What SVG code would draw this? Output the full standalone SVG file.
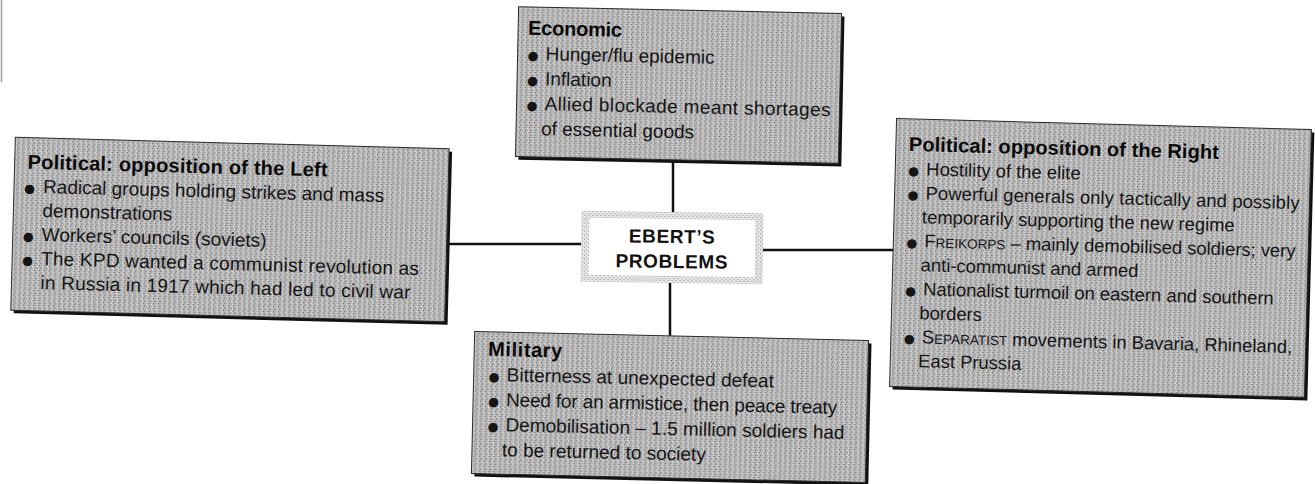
<svg xmlns="http://www.w3.org/2000/svg" width="1315" height="484" viewBox="0 0 1315 484">
<defs>
<pattern id="stip" width="5" height="5" patternUnits="userSpaceOnUse">
<rect width="5" height="5" fill="#b5b5b5"/>
<rect x="0" y="0" width="1" height="1" fill="#6a6a6a"/>
<rect x="3" y="1" width="1" height="1" fill="#f2f2f2"/>
<rect x="1" y="3" width="1" height="1" fill="#7c7c7c"/>
<rect x="4" y="4" width="1" height="1" fill="#e6e6e6"/>
<rect x="2" y="2" width="1" height="1" fill="#909090"/>
<rect x="4" y="2" width="1" height="1" fill="#d8d8d8"/>
</pattern>
<pattern id="stipL" width="4" height="4" patternUnits="userSpaceOnUse">
<rect width="4" height="4" fill="#e2e2e2"/>
<rect x="0" y="0" width="1" height="1" fill="#8a8a8a"/>
<rect x="2" y="2" width="1" height="1" fill="#a0a0a0"/>
<rect x="3" y="1" width="1" height="1" fill="#ffffff"/>
</pattern>
</defs>
<style>
.box{fill:url(#stip);stroke:#2a2a2a;stroke-width:1}
.sh{fill:#111}
.t{font-family:"Liberation Sans",Arial,sans-serif;font-size:19px;fill:#151515}
.r{font-size:18.4px}
.h{font-family:"Liberation Sans",Arial,sans-serif;font-size:20px;font-weight:bold;fill:#0a0a0a}
.b{font-family:"DejaVu Sans",sans-serif;font-size:12.5px}
.sc{font-size:13.5px}
.ct{font-family:"Liberation Sans",Arial,sans-serif;font-size:19px;font-weight:bold;fill:#111;text-anchor:middle;letter-spacing:0.6px}
.c{stroke:#111;stroke-width:2.5;fill:none}
</style>
<line x1="1.5" y1="0" x2="1.5" y2="82" stroke="#9a9a9a" stroke-width="1.5"/>
<g id="connectors">
<line class="c" x1="673" y1="160" x2="673" y2="213"/>
<line class="c" x1="449" y1="244" x2="584" y2="244"/>
<line class="c" x1="762" y1="250" x2="895" y2="250"/>
<line class="c" x1="670" y1="283" x2="670" y2="338"/>
</g>
<g id="economic" transform="rotate(1.2 678 85)">
<rect class="sh" x="520" y="13" width="323" height="150"/>
<rect class="box" x="517" y="10" width="323" height="150"/>
<text class="h" x="527" y="38" textLength="94">Economic</text>
<text class="t" y="63"><tspan class="b" x="527">●</tspan><tspan x="545">Hunger/flu epidemic</tspan></text>
<text class="t" y="88"><tspan class="b" x="527">●</tspan><tspan x="545">Inflation</tspan></text>
<text class="t" y="113"><tspan class="b" x="527">●</tspan><tspan x="545" textLength="286">Allied blockade meant shortages</tspan></text>
<text class="t" x="542" y="138">of essential goods</text>
</g>
<g id="left" transform="rotate(1.5 230 229)">
<rect class="sh" x="16" y="146" width="434" height="173"/>
<rect class="box" x="13" y="143" width="434" height="173"/>
<text class="h" x="26" y="174" textLength="300">Political: opposition of the Left</text>
<text class="t" y="198"><tspan class="b" x="23">●</tspan><tspan x="42">Radical groups holding strikes and mass</tspan></text>
<text class="t" x="42" y="222">demonstrations</text>
<text class="t" y="246"><tspan class="b" x="23">●</tspan><tspan x="42">Workers’ councils (soviets)</tspan></text>
<text class="t" y="270"><tspan class="b" x="23">●</tspan><tspan x="42" textLength="378">The KPD wanted a communist revolution as</tspan></text>
<text class="t" x="42" y="294" textLength="370">in Russia in 1917 which had led to civil war</text>
</g>
<g id="right" transform="rotate(1.5 1101 258)">
<rect class="sh" x="896" y="127" width="415" height="268"/>
<rect class="box" x="893" y="124" width="415" height="268"/>
<text class="h" x="906" y="156" textLength="310">Political: opposition of the Right</text>
<text class="t r" y="180"><tspan class="b" x="906">●</tspan><tspan x="924">Hostility of the elite</tspan></text>
<text class="t r" y="204"><tspan class="b" x="906">●</tspan><tspan x="924" textLength="374">Powerful generals only tactically and possibly</tspan></text>
<text class="t r" x="921" y="228">temporarily supporting the new regime</text>
<text class="t r" y="252"><tspan class="b" x="906">●</tspan><tspan x="924">F</tspan><tspan class="sc">REIKORPS</tspan><tspan> – mainly demobilised soldiers; very</tspan></text>
<text class="t r" x="921" y="276">anti-communist and armed</text>
<text class="t r" y="300"><tspan class="b" x="906">●</tspan><tspan x="924">Nationalist turmoil on eastern and southern</tspan></text>
<text class="t r" x="921" y="324">borders</text>
<text class="t r" y="348"><tspan class="b" x="906">●</tspan><tspan x="924">S</tspan><tspan class="sc">EPARATIST</tspan><tspan> movements in Bavaria, Rhineland,</tspan></text>
<text class="t r" x="921" y="372">East Prussia</text>
</g>
<g id="center" transform="rotate(0.8 672 248)">
<rect x="581" y="212" width="182" height="71" fill="url(#stipL)"/>
<rect x="589" y="219" width="166" height="57" fill="#ffffff"/>
<text class="ct" x="672" y="243">EBERT’S</text>
<text class="ct" x="672" y="268">PROBLEMS</text>
</g>
<g id="military" transform="rotate(1.3 670 407)">
<rect class="sh" x="476" y="339" width="394" height="142"/>
<rect class="box" x="473" y="336" width="394" height="142"/>
<text class="h" x="487" y="360" textLength="74">Military</text>
<text class="t" y="385"><tspan class="b" x="488">●</tspan><tspan x="506">Bitterness at unexpected defeat</tspan></text>
<text class="t" y="410"><tspan class="b" x="488">●</tspan><tspan x="506" textLength="331">Need for an armistice, then peace treaty</tspan></text>
<text class="t" y="435"><tspan class="b" x="488">●</tspan><tspan x="506">Demobilisation – 1.5 million soldiers had</tspan></text>
<text class="t" x="503" y="460">to be returned to society</text>
</g>
</svg>
